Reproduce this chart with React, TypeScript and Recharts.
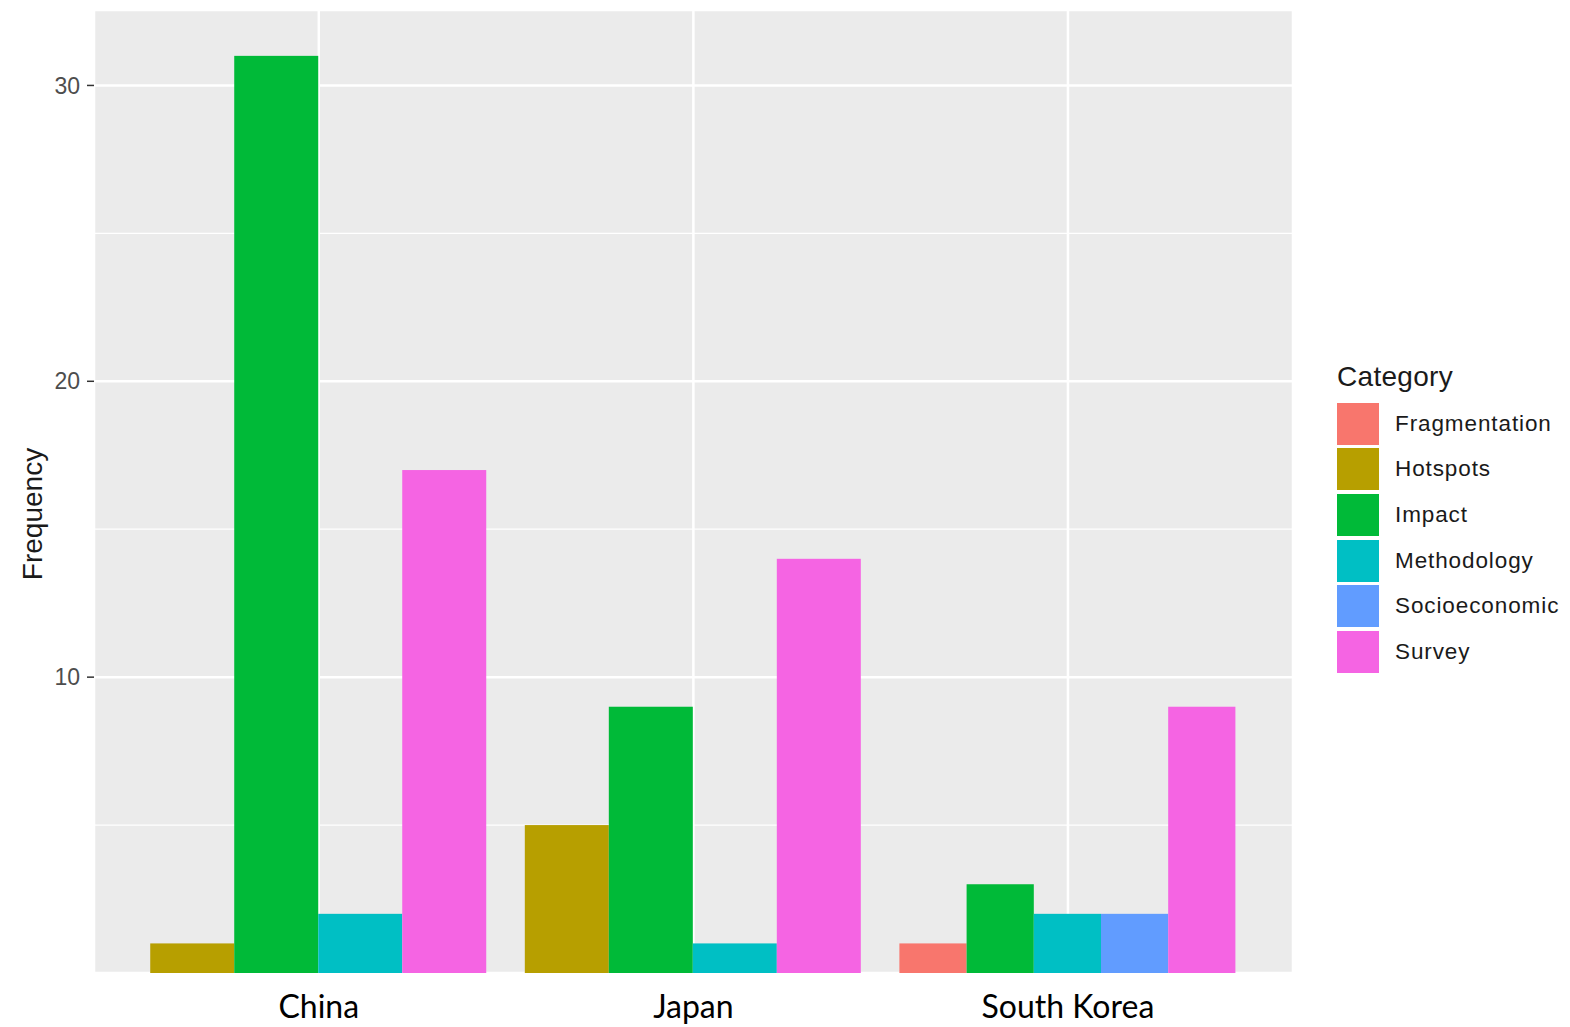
import React from "react";
import {
  BarChart,
  Bar,
  XAxis,
  YAxis,
  CartesianGrid,
  Legend,
} from "recharts";

// data
const countries = ["China", "Japan", "South Korea"];
const categories = [
  "Fragmentation",
  "Hotspots",
  "Impact",
  "Methodology",
  "Socioeconomic",
  "Survey",
];
const fragmentation = [0, 0, 1];
const hotspots = [1, 5, 0];
const impact = [31, 9, 3];
const methodology = [2, 1, 2];
const socioeconomic = [0, 0, 2];
const survey = [17, 14, 9];
const yTicks = [10, 20, 30];
const yMinorTicks = [5, 15, 25];
const yMax = 32.55; // 31 + ggplot's 5% expansion

// ggplot default hue palette
const colors = ["#F8766D", "#B79F00", "#00BA38", "#00BFC4", "#619CFF", "#F564E3"];

const seriesValues = [fragmentation, hotspots, impact, methodology, socioeconomic, survey];

const data = countries.map((country, i) => {
  const row: Record<string, string | number> = { country };
  categories.forEach((cat, k) => {
    row[cat] = seriesValues[k][i];
  });
  return row;
});

// mimic ggplot's position_dodge: bars only for categories present in a group,
// sharing the whole group width
const makeDodgeShape = (catIdx: number) => (props: any) => {
  const { x, y, width, height, index, fill } = props;
  const vals = seriesValues.map((s) => s[index]);
  if (!vals[catIdx]) return <g />;
  const present = vals.map((v, k) => (v > 0 ? k : -1)).filter((k) => k >= 0);
  const groupX = x - catIdx * width;
  const groupW = width * categories.length;
  const w = groupW / present.length;
  const nx = groupX + present.indexOf(catIdx) * w;
  return <rect x={nx} y={y} width={w} height={height} fill={fill} />;
};

const LegendBox = () => (
  <div style={{ fontFamily: "'Liberation Sans', Arial, sans-serif" }}>
    <div style={{ fontSize: 28, color: "#1a1a1a", marginBottom: 8, lineHeight: "32px", letterSpacing: 0.3 }}>
      Category
    </div>
    {categories.map((cat, k) => (
      <div key={cat} style={{ display: "flex", alignItems: "center", height: 45.6 }}>
        <div style={{ width: 42, height: 42, background: colors[k] }} />
        <span style={{ marginLeft: 16, fontSize: 22.5, color: "#1a1a1a", letterSpacing: 0.9 }}>{cat}</span>
      </div>
    ))}
  </div>
);

export default function App() {
  return (
    <div style={{ width: 1570, height: 1027, background: "#fff" }}>
      <style>{"body{margin:0;}"}</style>
      <BarChart
        width={1570}
        height={1027}
        data={data}
        margin={{ top: 10, right: 277, left: 0, bottom: 2 }}
        barCategoryGap="5%"
        barGap={0}
      >
        <CartesianGrid fill="#EBEBEB" stroke="#FFFFFF" strokeWidth={2.5} />
        {/* minor gridlines at the half steps */}
        <CartesianGrid
          stroke="#FFFFFF"
          strokeWidth={1.2}
          vertical={false}
          horizontalCoordinatesGenerator={(p: any) =>
            yMinorTicks.map((v) => p.offset.top + p.offset.height * (1 - v / yMax))
          }
        />
        <XAxis
          dataKey="country"
          axisLine={false}
          tickLine={false}
          tickSize={0}
          tickMargin={22}
          height={52}
          padding={{ left: 37.5, right: 37.75 }}
          tick={{ fontFamily: "Lato, sans-serif", fontSize: 32, fill: "#000" }}
        />
        <YAxis
          width={94}
          domain={[0, yMax]}
          ticks={yTicks}
          allowDataOverflow
          axisLine={false}
          tickSize={7}
          tickMargin={7}
          tickLine={{ stroke: "#333", strokeWidth: 1.5 }}
          tick={{ fontFamily: "'Liberation Sans', Arial, sans-serif", fontSize: 23, fill: "#4D4D4D" }}
          label={() => (
            <text
              x={42}
              y={514}
              transform="rotate(-90 42 514)"
              textAnchor="middle"
              fontFamily="'Liberation Sans', Arial, sans-serif"
              fontSize={28}
              fill="#1a1a1a"
            >
              Frequency
            </text>
          )}
        />
        {categories.map((cat, k) => (
          <Bar
            key={cat}
            dataKey={cat}
            fill={colors[k]}
            isAnimationActive={false}
            shape={makeDodgeShape(k)}
          />
        ))}
        <Legend
          layout="vertical"
          align="center"
          verticalAlign="middle"
          content={() => <LegendBox />}
          wrapperStyle={{ left: 1337, top: 361, width: 233 }}
        />
      </BarChart>
    </div>
  );
}
